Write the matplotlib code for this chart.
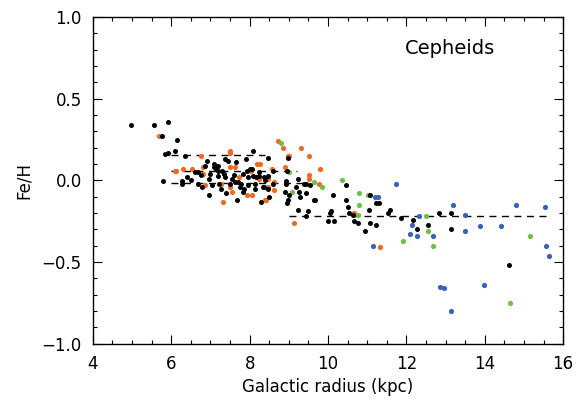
import matplotlib
matplotlib.use("Agg")
import matplotlib.pyplot as plt
from matplotlib.ticker import MultipleLocator

# Galactocentric radius (kpc) and [Fe/H] per sample
black_r = [4.97, 5.56, 5.92, 5.77, 6.15, 5.85, 5.92, 6.10, 5.79, 6.36, 6.90, 6.60, 6.67,
           7.00, 7.08, 7.13, 7.18, 6.28, 6.28, 6.41, 6.69, 6.79, 6.97, 7.18, 8.08, 7.38,
           7.46, 8.05, 7.20, 7.38, 7.82, 7.92, 7.95, 8.08, 8.15, 8.23, 7.23, 7.51, 7.62,
           7.69, 7.77, 7.97, 8.13, 8.33, 7.26, 7.82, 8.13, 7.67, 8.28, 8.97, 8.46, 8.59,
           8.95, 9.23, 8.36, 8.46, 8.92, 8.92, 8.36, 8.46, 9.18, 9.38, 9.44, 9.54, 8.90,
           9.00, 9.26, 9.28, 9.44, 9.64, 8.97, 8.95, 9.23, 9.44, 10.46, 9.67, 10.13, 11.08,
           10.46, 11.23, 11.31, 10.51, 10.08, 10.05, 10.54, 11.05, 11.54, 11.59, 10.64,
           10.67, 10.77, 10.00, 10.15, 11.08, 11.23, 10.95, 11.85, 12.18, 12.54, 12.28,
           12.82, 13.15, 13.15, 14.62, 9.49, 7.10, 6.50, 6.75, 7.30, 7.55, 7.85, 8.40,
           6.85, 7.40, 7.65, 8.00, 8.50, 7.05, 7.90, 6.95, 7.35, 7.75, 8.25, 8.60, 7.60]
black_feh = [0.34, 0.34, 0.36, 0.27, 0.25, 0.16, 0.17, 0.18, -0.006, 0.15, 0.12, 0.05, 0.05,
             0.04, 0.08, 0.07, 0.09, -0.006, -0.02, 0.02, -0.02, -0.04, -0.09, 0.025, 0.18, 0.13,
             0.12, 0.07, 0.055, 0.02, 0.04, 0.055, 0.02, 0.025, 0.02, 0.025, -0.02, -0.02, -0.01,
             -0.01, -0.02, -0.03, -0.02, -0.04, -0.055, -0.07, -0.055, -0.12, -0.13, 0.14, 0.14, 0.055,
             0.055, 0.01, 0.02, 0.025, -0.006, -0.02, -0.04, -0.055, -0.04, -0.02, -0.02, -0.03, -0.07,
             -0.09, -0.07, -0.10, -0.08, -0.12, -0.12, -0.14, -0.18, -0.22, -0.03, -0.12, -0.09, -0.09,
             -0.12, -0.14, -0.14, -0.16, -0.19, -0.20, -0.20, -0.18, -0.20, -0.18, -0.21,
             -0.25, -0.26, -0.25, -0.25, -0.26, -0.27, -0.31, -0.23, -0.24, -0.27, -0.30,
             -0.20, -0.20, -0.30, -0.52, -0.19, 0.10, 0.00, 0.03, 0.06, 0.01, -0.05, 0.00,
             0.09, -0.08, 0.11, 0.07, -0.10, -0.03, 0.13, 0.01, 0.04, -0.04, 0.05, -0.02, 0.03]

orange_r = [5.69, 6.13, 6.77, 6.10, 6.30, 6.54, 6.82, 6.82, 6.87, 7.49, 7.51, 7.51, 7.62,
            8.20, 8.26, 8.03, 7.72, 8.23, 7.28, 7.51, 7.56, 7.92, 8.05, 7.31, 8.41, 8.72,
            8.85, 8.97, 9.00, 9.31, 9.51, 8.56, 8.90, 9.51, 9.51, 8.44, 8.46, 8.62, 8.46,
            8.62, 8.38, 9.13, 9.79, 9.77, 10.67, 11.33]
orange_feh = [0.27, 0.055, 0.15, 0.055, 0.07, 0.07, 0.08, 0.04, -0.03, 0.18, 0.17, 0.08, 0.08,
              0.10, 0.10, 0.06, 0.02, 0.006, -0.02, -0.04, -0.07, -0.09, -0.09, -0.13, -0.12, 0.24,
              0.20, 0.15, 0.15, 0.20, 0.15, 0.07, 0.08, 0.03, 0.006, 0.006, 0.01, -0.01, -0.04,
              -0.06, -0.12, -0.26, 0.07, -0.02, -0.20, -0.41]

green_r = [8.79, 9.00, 9.64, 9.08, 9.85, 10.36, 10.79, 11.03, 10.79, 10.77, 12.51, 12.54,
           11.92, 12.69, 15.15, 14.64]
green_feh = [0.23, 0.05, -0.01, -0.07, -0.04, 0.00, -0.08, -0.09, -0.15, -0.21, -0.22, -0.31,
             -0.37, -0.40, -0.34, -0.75]

blue_r = [11.20, 11.28, 11.15, 11.74, 12.15, 12.33, 12.10, 12.26, 12.67, 13.20, 13.49, 13.49,
          14.79, 15.54, 13.87, 14.41, 15.56, 15.64, 12.87, 12.95, 13.97, 13.13]
blue_feh = [-0.10, -0.10, -0.40, -0.02, -0.27, -0.22, -0.33, -0.34, -0.34, -0.15, -0.21, -0.31,
            -0.15, -0.16, -0.28, -0.28, -0.40, -0.46, -0.65, -0.66, -0.64, -0.80]

# dashed mean-gradient segments: (r_start, r_end, feh)
seg_r0 = [6.0, 6.0, 6.0, 9.0]
seg_r1 = [8.4, 9.2, 9.5, 15.55]
seg_feh = [0.155, 0.06, -0.015, -0.215]

plt.rcParams['font.family'] = ['DejaVu Sans']
fig = plt.figure(figsize=(5.77, 4.04), dpi=100)
ax = fig.add_axes([0.161, 0.149, 0.815, 0.809])

for r0, r1, f in zip(seg_r0, seg_r1, seg_feh):
    ax.plot([r0, r1], [f, f], color='black', lw=1.0, dashes=(5, 4), zorder=1)

ax.scatter(black_r, black_feh, s=13, color='black', lw=0, zorder=3)
ax.scatter(orange_r, orange_feh, s=14, color='#f26a21', lw=0, zorder=2)
ax.scatter(green_r, green_feh, s=14, color='#6cc04a', lw=0, zorder=2)
ax.scatter(blue_r, blue_feh, s=14, color='#3b60b8', lw=0, zorder=2)

ax.set_xlim(4, 16)
ax.set_ylim(-1.0, 1.0)
ax.xaxis.set_major_locator(MultipleLocator(2))
ax.xaxis.set_minor_locator(MultipleLocator(0.5))
ax.yaxis.set_major_locator(MultipleLocator(0.5))
ax.yaxis.set_minor_locator(MultipleLocator(0.1))
ax.yaxis.set_major_formatter(plt.FuncFormatter(lambda v, p: f"{v:.1f}".replace('-', '\u2212')))
ax.tick_params(which='both', direction='in', top=True, right=True, labelsize=12, width=0.8)
ax.tick_params(which='major', length=6.5, pad=8)
ax.tick_params(which='minor', length=3)
for sp in ax.spines.values():
    sp.set_linewidth(1.0)

ax.set_xlabel('Galactic radius (kpc)', fontsize=12, labelpad=4)
ax.set_ylabel('Fe/H', fontsize=12, labelpad=6)
ax.text(0.664, 0.905, 'Cepheids', transform=ax.transAxes, ha='left', va='center', fontsize=14)

plt.savefig('out.png', dpi=100)
